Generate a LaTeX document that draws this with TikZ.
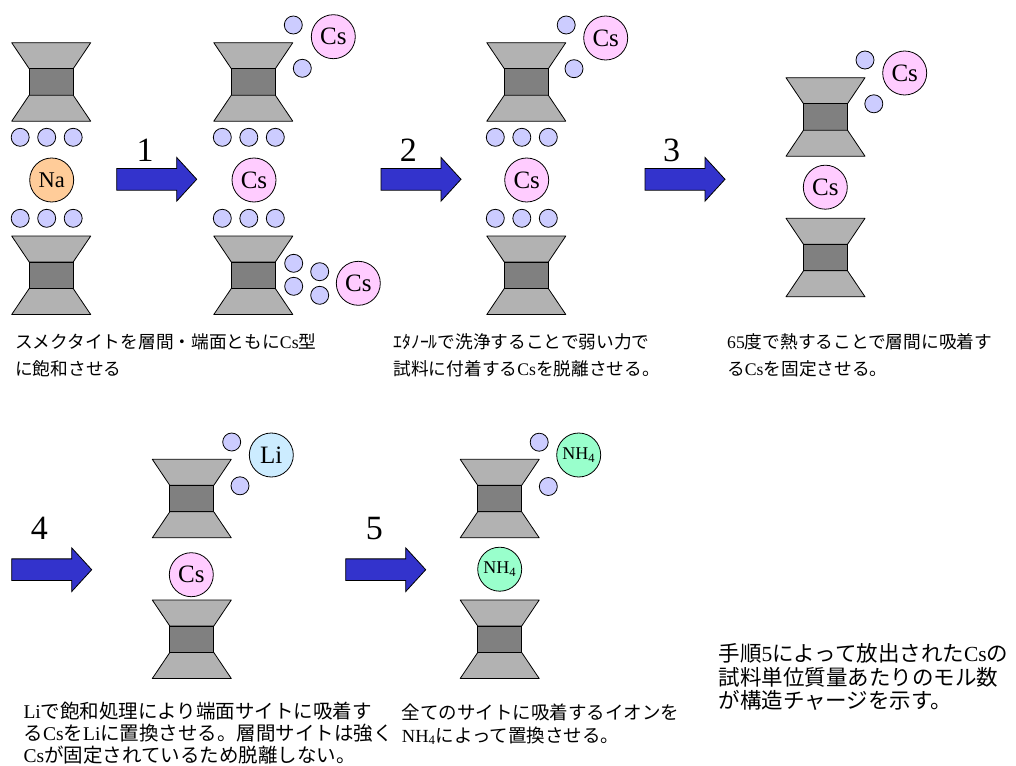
\documentclass[tikz,border=0pt]{standalone}
\usepackage{fontspec}
\setmainfont{Liberation Serif}
\newfontfamily\jpfont{Noto Sans CJK JP}
\usepackage{tikz}

\definecolor{sheetgray}{HTML}{B2B2B2}
\definecolor{coregray}{HTML}{808080}
\definecolor{waterblue}{HTML}{CCCCFF}
\definecolor{naorange}{HTML}{FFCC99}
\definecolor{cspink}{HTML}{FFCCFF}
\definecolor{liblue}{HTML}{CCECFF}
\definecolor{nhgreen}{HTML}{99FFCC}
\definecolor{arrowblue}{HTML}{3333CC}

\tikzstyle{sheet} = [draw=black, fill=sheetgray, line width=0.8pt, line join=round]
\tikzstyle{core} = [draw=black, fill=coregray, line width=0.8pt]
\tikzstyle{water} = [circle, draw=black, fill=waterblue, line width=0.8pt, minimum size=18pt, inner sep=0pt]
\tikzstyle{cation} = [circle, draw=black, line width=0.8pt, minimum size=44pt, inner sep=0pt, font=\fontsize{25}{25}\selectfont]
\tikzstyle{nhion} = [cation, fill=nhgreen, font=\fontsize{18}{18}\selectfont]
\tikzstyle{fatarrow} = [draw=black, fill=arrowblue, line width=0.8pt]
\tikzstyle{stepno} = [font=\fontsize{34}{34}\selectfont]
\tikzstyle{note} = [anchor=north west, inner sep=0pt, align=left]

\newcommand{\lat}[1]{{\rmfamily #1}}
\newcommand{\nhfour}{NH\textsubscript{4}}

% clay layer: x of the centre, y of the top edge
\newcommand{\claylayer}[2]{
  \draw[sheet] ({#1-39.5},#2) -- ({#1+39.5},#2) -- ({#1+22},{#2+26}) -- ({#1-22},{#2+26}) -- cycle;
  \draw[core] ({#1-22},{#2+26}) rectangle ({#1+22},{#2+52.5});
  \draw[sheet] ({#1-22},{#2+52.5}) -- ({#1+22},{#2+52.5}) -- ({#1+39.5},{#2+78.5}) -- ({#1-39.5},{#2+78.5}) -- cycle;
}
% block arrow: x of the tail, y of the axis
\newcommand{\steparrow}[2]{
  \draw[fatarrow] (#1,{#2-10.85}) -- ({#1+60},{#2-10.85}) -- ({#1+60},{#2-21.85}) -- ({#1+80},#2)
    -- ({#1+60},{#2+21.85}) -- ({#1+60},{#2+10.85}) -- (#1,{#2+10.85}) -- cycle;
}

\begin{document}
\begin{tikzpicture}[x=1pt,y=1pt,yscale=-1]
\useasboundingbox[fill=white] (0,0) rectangle (1016,765);

% upper row: Na form, Cs saturation, washing, heating
\claylayer{51.2}{42.7}
\claylayer{51.2}{236}
\claylayer{253.3}{42.7}
\claylayer{253.3}{236}
\claylayer{526.3}{42.7}
\claylayer{526.3}{236}
\claylayer{825.5}{77.7}
\claylayer{825.5}{218.3}

\foreach \dx [count=\k] in {-31,-4.5,22} {
  \node[water] (w1u\k) at ({51.2+\dx},137.3) {};
  \node[water] (w1d\k) at ({51.2+\dx},218.3) {};
  \node[water] (w2u\k) at ({253.3+\dx},137.3) {};
  \node[water] (w2d\k) at ({253.3+\dx},218.3) {};
  \node[water] (w3u\k) at ({526.3+\dx},137.3) {};
  \node[water] (w3d\k) at ({526.3+\dx},218.3) {};
}
\node[cation, fill=naorange, font=\fontsize{22.5}{22.5}\selectfont] (na1) at (51.7,180) {Na};

\node[cation, fill=cspink] (cs2m) at (254,180) {Cs};
\node[water] (w2t1) at (293.3,25) {};
\node[water] (w2t2) at (302.3,68.3) {};
\node[cation, fill=cspink] (cs2t) at (333.3,36.7) {Cs};
\node[water] (w2e1) at (293.7,263.3) {};
\node[water] (w2e2) at (293.7,286.3) {};
\node[water] (w2e3) at (319.7,271.7) {};
\node[water] (w2e4) at (319.7,295.3) {};
\node[cation, fill=cspink] (cs2e) at (358.3,283.3) {Cs};

\node[cation, fill=cspink] (cs3m) at (526.7,180) {Cs};
\node[water] (w3t1) at (566.2,25) {};
\node[water] (w3t2) at (574,68.7) {};
\node[cation, fill=cspink] (cs3t) at (605.7,38) {Cs};

\node[cation, fill=cspink] (cs4m) at (825.3,187.2) {Cs};
\node[water] (w4t1) at (865,60) {};
\node[water] (w4t2) at (873.8,103.8) {};
\node[cation, fill=cspink] (cs4t) at (904.7,73) {Cs};

\steparrow{116.7}{179.3}
\node[stepno] (no1) at (145,150) {1};
\steparrow{381}{179.3}
\node[stepno] (no2) at (408.3,150) {2};
\steparrow{645}{179.3}
\node[stepno] (no3) at (671.7,150) {3};

% lower row: Li exchange, NH4 exchange
\claylayer{191.8}{459.3}
\claylayer{191.8}{600}
\claylayer{499.7}{459.3}
\claylayer{499.7}{600}

\node[cation, fill=cspink] (cs5m) at (191.3,574.7) {Cs};
\node[water] (w5t1) at (231.7,442) {};
\node[water] (w5t2) at (240,485.8) {};
\node[cation, fill=liblue] (li5t) at (271.3,455) {Li};

\node[nhion] (nh6m) at (499.7,569.2) {\nhfour};
\node[water] (w6t1) at (539.2,442.2) {};
\node[water] (w6t2) at (548.3,486.5) {};
\node[nhion] (nh6t) at (578.7,455) {\nhfour};

\steparrow{11.7}{569.7}
\node[stepno] (no4) at (39.3,528.3) {4};
\steparrow{345.7}{569.7}
\node[stepno] (no5) at (374.3,528.3) {5};

% captions
\node[note, font=\jpfont\fontsize{17.7}{26.6}\selectfont] (txt1) at (15,333.7)
  {スメクタイトを層間・端面ともに\lat{Cs}型\\に飽和させる};
\node[note, font=\jpfont\fontsize{17.7}{26.6}\selectfont] (txt2) at (393.3,333.7)
  {ｴﾀﾉｰﾙで洗浄することで弱い力で\\試料に付着する\lat{Cs}を脱離させる。};
\node[note, font=\jpfont\fontsize{17.7}{26.6}\selectfont] (txt3) at (727,333.7)
  {\lat{65}度で熱することで層間に吸着す\\る\lat{Cs}を固定させる。};
\node[note, font=\jpfont\fontsize{19.5}{22}\selectfont] (txt4) at (23.3,701.8)
  {\lat{Li}で飽和処理により端面サイトに吸着す\\る\lat{Cs}を\lat{Li}に置換させる。層間サイトは強く\\\lat{Cs}が固定されているため脱離しない。};
\node[note, font=\jpfont\fontsize{18.5}{23}\selectfont] (txt5) at (401.7,703.4)
  {全てのサイトに吸着するイオンを\\\lat{\nhfour}によって置換させる。};
\node[note, font=\jpfont\fontsize{21.5}{23.4}\selectfont] (txt6) at (718.3,643.7)
  {手順\lat{5}によって放出された\lat{Cs}の\\試料単位質量あたりのモル数\\が構造チャージを示す。};
\end{tikzpicture}
\end{document}
